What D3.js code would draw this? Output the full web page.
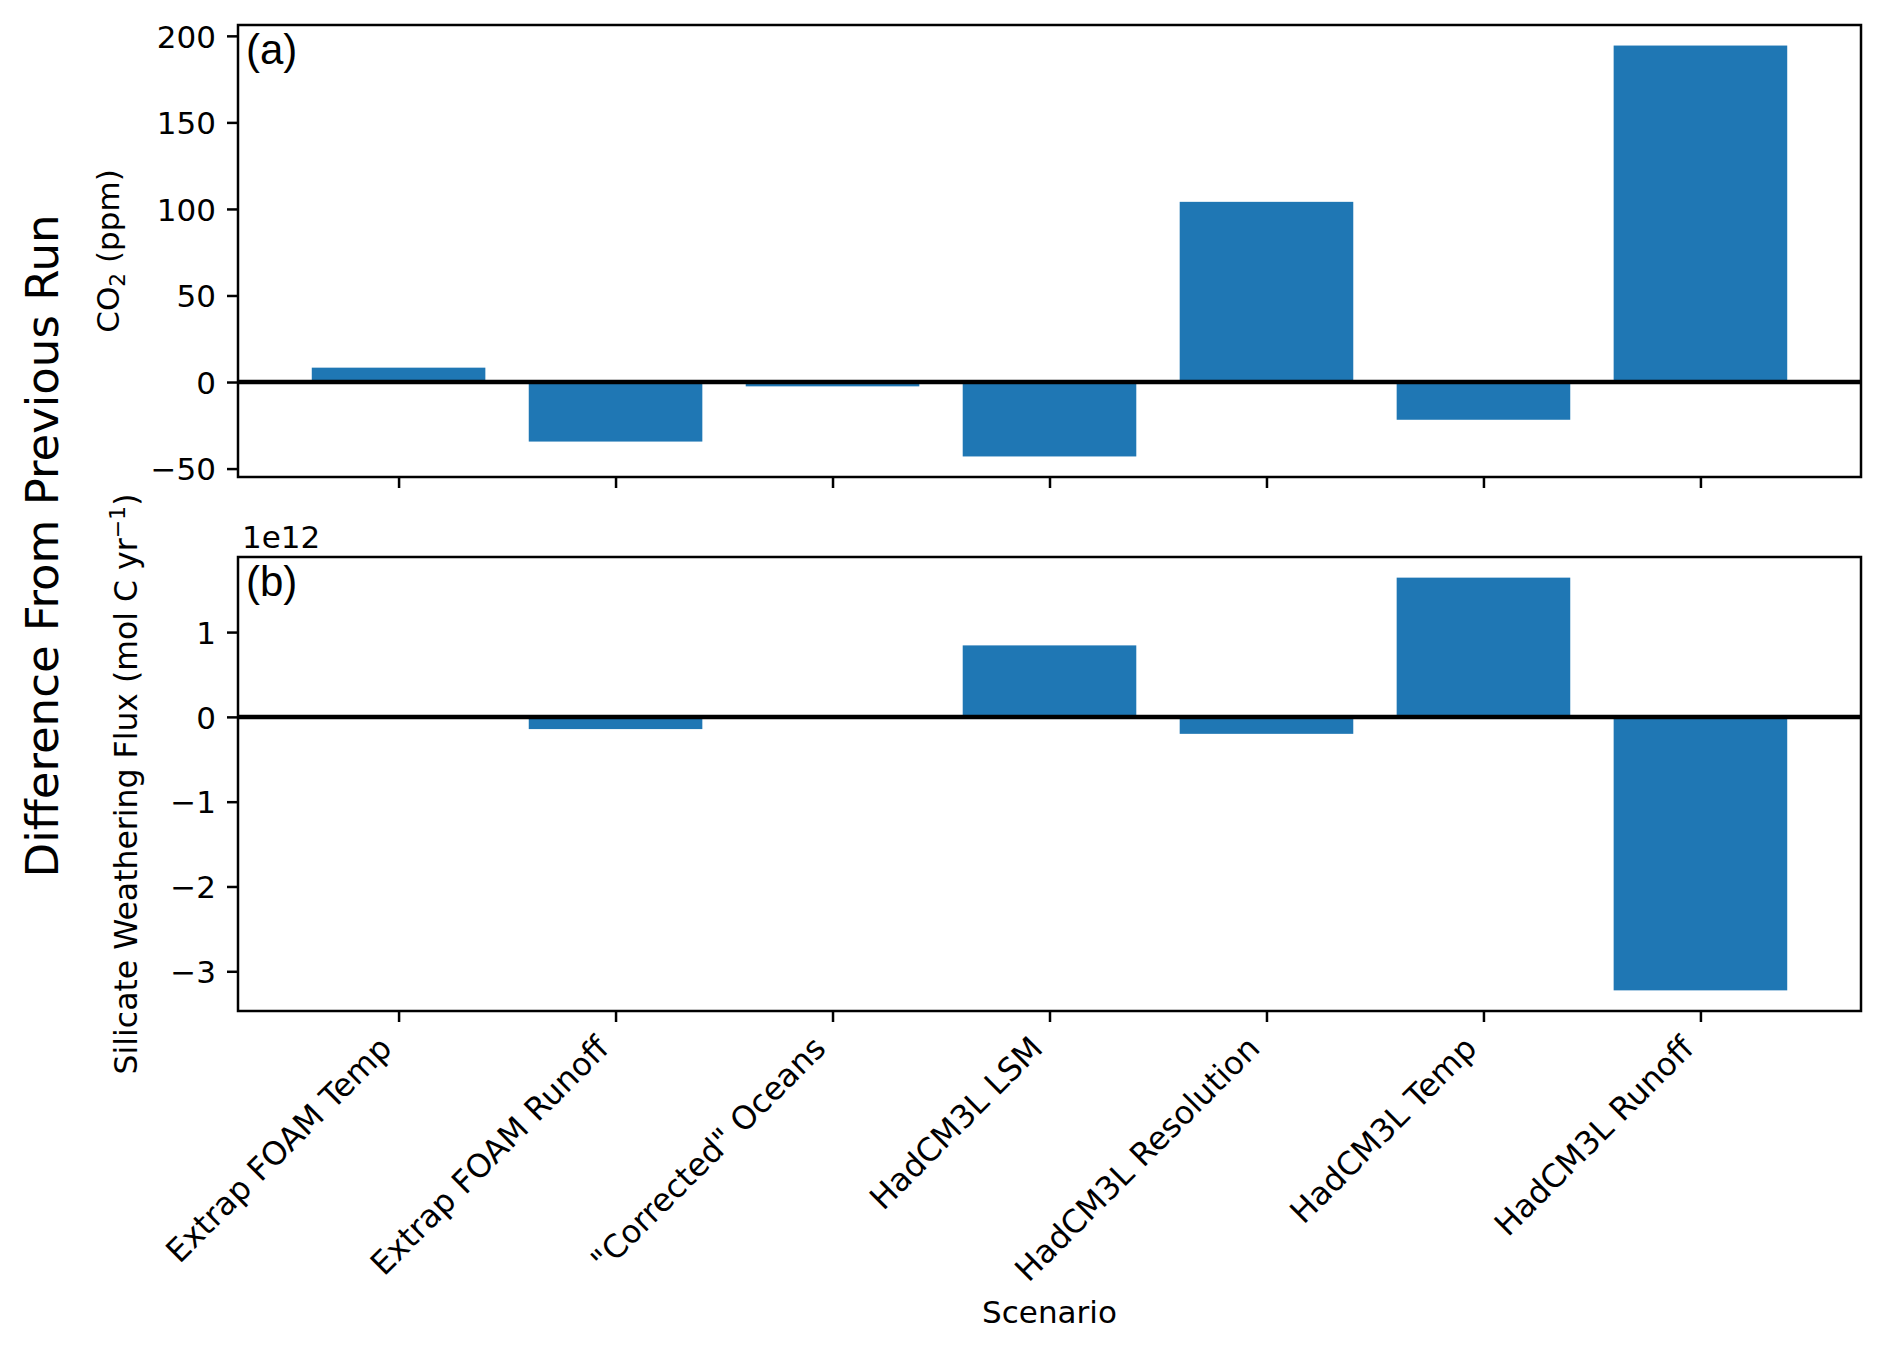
<!DOCTYPE html>
<html lang="en">
<head>
<meta charset="UTF-8">
<title>Difference From Previous Run</title>
<script src="https://d3js.org/d3.v7.min.js"></script>
<style>
    body { margin: 0; background: #fff; }
    text { font-family: "DejaVu Sans", sans-serif; fill: #000; }
    .panel-tag { font-family: "Liberation Sans", Arial, sans-serif; }
</style>
</head>
<body>
<svg id="chart" width="1892" height="1360"></svg>
<script>
// scenarios along the x axis
const categories = [
    "Extrap FOAM Temp",
    "Extrap FOAM Runoff",
    "\"Corrected\" Oceans",
    "HadCM3L LSM",
    "HadCM3L Resolution",
    "HadCM3L Temp",
    "HadCM3L Runoff"
];

// (a) CO2 difference, ppm
const co2Diff = [8.3, -34.4, -2.5, -43, 104.1, -21.8, 194.4];

// (b) silicate weathering flux difference, mol C / yr
const fluxDiff = [0, -0.144e12, 0, 0.843e12, -0.2e12, 1.642e12, -3.225e12];

const co2Ticks = [-50, 0, 50, 100, 150, 200];
const fluxTicks = [-3e12, -2e12, -1e12, 0, 1e12];
const fluxOffset = 1e12;

const svg = d3.select("#chart");
const left = 238, right = 1861;
const fontSize = 31, xLabelSize = 32, tickLen = 11, tickPad = 11;
const barColor = "#1f77b4";

// matplotlib style x range: bars of width 0.8 plus 5% margins
const x = d3.scaleLinear()
    .domain([-0.74, categories.length - 1 + 0.74])
    .range([left, right]);

// 5% margin around the data (and zero)
const paddedDomain = (values) => {
    const lo = Math.min(0, d3.min(values));
    const hi = Math.max(0, d3.max(values));
    const pad = (hi - lo) * 0.05;
    return [lo - pad, hi + pad];
};

const fmtMinus = (s) => String(s).replace("-", "\u2212");

// Draw one bar panel
const drawPanel = (opts) => {
    const { top, bottom, values, ticks, tickFormat, showLabels, tag } = opts;

    const y = d3.scaleLinear()
        .domain(paddedDomain(values))
        .range([bottom, top]);

    const g = svg.append("g");

    g.selectAll("rect.bar")
        .data(values)
        .enter().append("rect")
        .attr("class", "bar")
        .attr("x", (d, i) => x(i - 0.4))
        .attr("width", (d, i) => x(i + 0.4) - x(i - 0.4))
        .attr("y", d => y(Math.max(0, d)))
        .attr("height", d => Math.abs(y(d) - y(0)))
        .attr("fill", barColor);

    // zero line
    g.append("line")
        .attr("x1", left).attr("x2", right)
        .attr("y1", y(0)).attr("y2", y(0))
        .attr("stroke", "#000")
        .attr("stroke-width", 4.5);

    // y axis
    const yAxis = g.append("g")
        .attr("transform", `translate(${left},0)`)
        .call(d3.axisLeft(y)
            .tickValues(ticks)
            .tickFormat(tickFormat)
            .tickSize(tickLen)
            .tickPadding(tickPad));
    yAxis.select(".domain").remove();
    yAxis.selectAll(".tick line").attr("stroke-width", 2.5);
    yAxis.selectAll(".tick text")
        .attr("font-size", fontSize)
        .attr("font-family", "DejaVu Sans")
        .attr("dy", "0.36em");

    // x axis
    const xAxis = g.append("g")
        .attr("transform", `translate(0,${bottom})`)
        .call(d3.axisBottom(x)
            .tickValues(d3.range(categories.length))
            .tickFormat(i => categories[i])
            .tickSize(tickLen)
            .tickPadding(tickPad));
    xAxis.select(".domain").remove();
    xAxis.selectAll(".tick line").attr("stroke-width", 2.5);

    if (showLabels) {
        // rotated 45 degrees, right edge of rotated box at the tick
        const asc = xLabelSize * 0.76, desc = xLabelSize * 0.24;
        const s = Math.SQRT1_2;
        xAxis.selectAll(".tick text")
            .attr("font-size", xLabelSize)
            .attr("font-family", "DejaVu Sans")
            .attr("text-anchor", "end")
            .attr("dy", null)
            .attr("y", 0)
            .attr("transform", `translate(${-desc * s},${tickLen + tickPad + asc * s}) rotate(-45)`);
    } else {
        xAxis.selectAll(".tick text").remove();
    }

    // frame
    g.append("rect")
        .attr("x", left).attr("y", top)
        .attr("width", right - left).attr("height", bottom - top)
        .attr("fill", "none")
        .attr("stroke", "#000")
        .attr("stroke-width", 2.5);

    g.append("text")
        .attr("class", "panel-tag")
        .attr("x", left + 8)
        .attr("y", top + 39)
        .attr("font-size", 42)
        .text(tag);

    return y;
};

drawPanel({
    top: 25, bottom: 477,
    values: co2Diff,
    ticks: co2Ticks,
    tickFormat: d => fmtMinus(d),
    showLabels: false,
    tag: "(a)"
});

drawPanel({
    top: 557, bottom: 1011,
    values: fluxDiff,
    ticks: fluxTicks,
    tickFormat: d => fmtMinus(Math.round(d / fluxOffset)),
    showLabels: true,
    tag: "(b)"
});

// offset text of the lower panel
svg.append("text")
    .attr("x", 242)
    .attr("y", 548)
    .attr("font-size", fontSize)
    .text("1e12");

// y labels
const co2Label = svg.append("text")
    .attr("transform", "translate(119,251) rotate(-90)")
    .attr("text-anchor", "middle")
    .attr("font-size", fontSize);
co2Label.append("tspan").text("CO");
co2Label.append("tspan").attr("font-size", fontSize * 0.7).attr("dy", 6).text("2");
co2Label.append("tspan").attr("dy", -6).text(" (ppm)");

const fluxLabel = svg.append("text")
    .attr("transform", "translate(137,784) rotate(-90)")
    .attr("text-anchor", "middle")
    .attr("font-size", 31.5);
fluxLabel.append("tspan").text("Silicate Weathering Flux (mol C yr");
fluxLabel.append("tspan").attr("font-size", 31.5 * 0.7).attr("dy", -12).text("\u22121");
fluxLabel.append("tspan").attr("dy", 12).text(")");

svg.append("text")
    .attr("transform", "translate(58,546) rotate(-90)")
    .attr("text-anchor", "middle")
    .attr("font-size", 45)
    .text("Difference From Previous Run");

// x label
svg.append("text")
    .attr("x", (left + right) / 2)
    .attr("y", 1323)
    .attr("text-anchor", "middle")
    .attr("font-size", fontSize)
    .text("Scenario");
</script>
</body>
</html>
